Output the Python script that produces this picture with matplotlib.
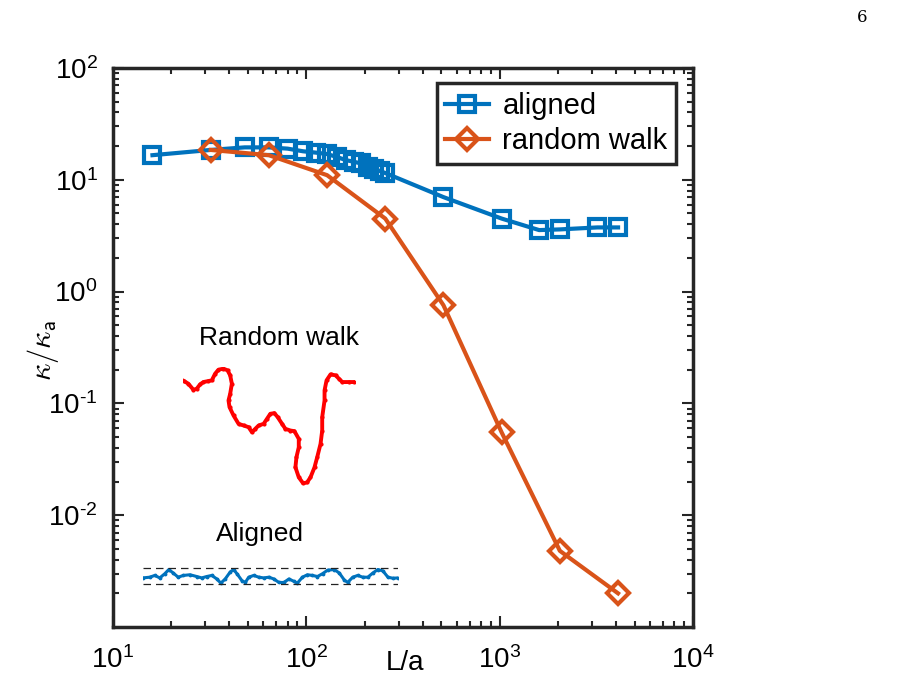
import matplotlib
matplotlib.use("Agg")
import matplotlib.pyplot as plt
from matplotlib.ticker import FuncFormatter
import numpy as np

plt.rcParams['font.family'] = ['Liberation Sans', 'DejaVu Sans']
plt.rcParams['mathtext.fontset'] = 'custom'
plt.rcParams['mathtext.rm'] = 'Liberation Sans'
plt.rcParams['mathtext.it'] = 'Liberation Sans:italic'

# main data
L_aligned = [16, 32, 48, 64, 80, 96, 112, 128, 144, 160, 176, 192, 208, 224, 240, 256,
             512, 1024, 1600, 2048, 3200, 4096]
k_aligned = [16.6, 18.5, 19.5, 19.5, 19.0, 18.0, 17.5, 17.0, 16.0, 15.0, 14.5, 14.0,
             13.0, 12.5, 12.0, 11.5, 7.0, 4.5, 3.55, 3.6, 3.75, 3.75]

L_random = [32, 64, 128, 256, 512, 1024, 2048, 4096]
k_random = [18.5, 16.6, 11.0, 4.5, 0.755, 0.055, 0.0048, 0.002]

# inset sketches (traced shapes, arbitrary units)
rw_x = [42, 55, 70, 80, 90, 100, 115, 125, 135, 145, 160, 172, 180, 185, 180, 175, 178,
        190, 205, 220, 235, 245, 255, 265, 280, 290, 300, 312, 322, 335, 345, 360, 372,
        385, 385, 378, 375, 385, 398, 410, 420, 432, 440, 450, 455, 455, 462, 462, 468,
        480, 495, 505, 515, 535, 550]
rw_y = [62, 70, 88, 85, 72, 65, 62, 60, 40, 28, 25, 30, 45, 70, 100, 120, 140,
        165, 190, 195, 200, 215, 205, 195, 190, 175, 160, 158, 170, 190, 205, 210, 212,
        235, 260, 290, 320, 350, 368, 365, 350, 320, 290, 250, 210, 170, 120, 90, 60,
        42, 45, 55, 65, 65, 65]

al_x = [130, 150, 165, 180, 195, 207, 220, 235, 250, 270, 290, 305, 320, 335, 350, 362,
        375, 390, 400, 410, 425, 435, 445, 460, 475, 490, 505, 520, 535, 550, 565, 580,
        590, 605, 620, 635, 650, 665, 680, 700, 715, 730, 740, 755, 770, 785, 800, 815,
        830, 845, 860, 875, 890]
al_y = [742, 740, 735, 742, 730, 718, 728, 740, 735, 733, 738, 742, 738, 735, 745, 757,
        745, 725, 718, 730, 750, 755, 740, 735, 740, 742, 740, 745, 755, 755, 745, 752,
        757, 740, 733, 735, 738, 730, 720, 718, 728, 748, 755, 740, 735, 740, 740, 728,
        718, 722, 740, 743, 742]
al_bounds = [715, 760]


def log_label(v, pos):
    e = int(round(np.log10(v)))
    if e < 0:
        return r'$10^{\text{-}%d}$' % (-e)
    return r'$10^{%d}$' % e


W, H = 897, 677
fig = plt.figure(figsize=(W / 100, H / 100), dpi=100)
ax = fig.add_axes([113 / W, 1 - 627 / H, 580 / W, 559 / H])

blue = '#0072BD'
orange = '#D95319'

ax.loglog(L_aligned, k_aligned, '-s', color=blue, lw=3, ms=11, mew=3,
          mfc='none', label='aligned')
ax.loglog(L_random, k_random, '-D', color=orange, lw=3, ms=11, mew=3,
          mfc='none', label='random walk')

ax.set_xlim(10, 1e4)
ax.set_ylim(1e-3, 1e2)
ax.set_yticks([1e-2, 1e-1, 1e0, 1e1, 1e2])
ax.set_xticks([1e1, 1e2, 1e3, 1e4])
ax.xaxis.set_major_formatter(FuncFormatter(log_label))
ax.yaxis.set_major_formatter(FuncFormatter(log_label))
ax.tick_params(which='both', direction='in', top=True, right=True,
               labelsize=20, width=1.5, colors='#262626', labelcolor='black')
ax.tick_params(axis='x', which='major', length=8, pad=14)
ax.tick_params(axis='y', which='major', length=8, pad=11)
ax.tick_params(which='minor', length=4)
for s in ax.spines.values():
    s.set_linewidth(2.5)
    s.set_color('#262626')

ax.set_xlabel('L/a', fontsize=20)
ax.xaxis.set_label_coords(0.503, -0.042)
ax.set_ylabel(r'$\kappa/\kappa_{\mathsf{a}}$', fontsize=22, math_fontfamily='cm')
ax.yaxis.set_label_coords(-0.09, 0.495)

leg = ax.legend(loc='upper right', bbox_to_anchor=(0.971, 0.973), fontsize=21,
                handlelength=1.5, handletextpad=0.45, borderpad=0.3,
                labelspacing=0.25, borderaxespad=0.0, fancybox=False, framealpha=1)
leg.get_frame().set_edgecolor('#262626')
leg.get_frame().set_linewidth(2.5)

# random walk inset
ax_rw = fig.add_axes([183 / W, 1 - 485 / H, 172 / W, 118 / H])
ax_rw.plot(rw_x, rw_y, '-', color='red', lw=2.8, marker='.', ms=4)
ax_rw.set_xlim(min(rw_x) - 3, max(rw_x) + 3)
ax_rw.set_ylim(max(rw_y) + 5, min(rw_y) - 5)
ax_rw.axis('off')

# aligned inset
ax_al = fig.add_axes([143 / W, 1 - 587 / H, 255 / W, 21 / H])
ax_al.plot(al_x, al_y, '-', color=blue, lw=2.2, marker='.', ms=3.5)
for b in al_bounds:
    ax_al.plot([al_x[0], al_x[-1]], [b, b], '--', color='#222222', lw=0.9,
               dashes=(6, 4))
ax_al.set_xlim(al_x[0], al_x[-1])
ax_al.set_ylim(768, 708)
ax_al.axis('off')

fig.text(279 / W, 1 - 338 / H, 'Random walk', fontsize=19, ha='center', va='center')
fig.text(260 / W, 1 - 534 / H, 'Aligned', fontsize=19, ha='center', va='center')
fig.text(862 / W, 1 - 18 / H, '6', fontsize=12, family='DejaVu Serif',
         ha='center', va='center')

fig.savefig('out.png', dpi=100)
